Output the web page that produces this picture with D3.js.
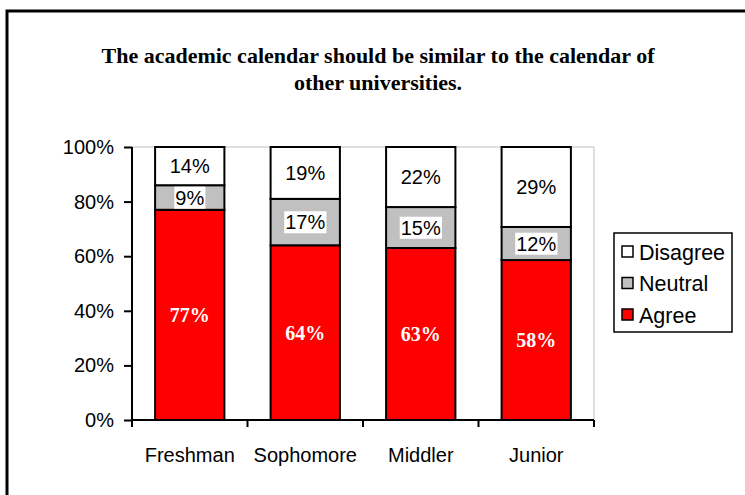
<!DOCTYPE html>
<html lang="en">
<head>
  <meta charset="UTF-8">
  <script src="https://d3js.org/d3.v7.min.js"></script>
  <title>Academic calendar survey</title>
  <style>
    body {
      margin: 0;
      background: white;
      overflow: hidden;
    }
    svg text {
      font-family: "Liberation Sans", Arial, sans-serif;
    }
  </style>
</head>
<body>
<script>
  // Chart data
  const categories = ["Freshman", "Sophomore", "Middler", "Junior"];
  const agree = [77, 64, 63, 58];
  const neutral = [9, 17, 15, 12];
  const disagree = [14, 19, 22, 29];
  const seriesNames = ["Agree", "Neutral", "Disagree"];
  const seriesColors = ["#ff0000", "#c0c0c0", "#ffffff"];
  const yTicks = [0, 0.2, 0.4, 0.6, 0.8, 1];
  const titleLines = [
    "The academic calendar should be similar to the calendar of",
    "other universities."
  ];

  const width = 745;
  const height = 495;

  // plot area box
  const plot = { left: 132, right: 594, top: 147, bottom: 420 };

  const svg = d3.select("body").append("svg")
    .attr("width", width)
    .attr("height", height);

  // outer frame (only left and top edges are visible in the picture)
  svg.append("rect")
    .attr("x", 7)
    .attr("y", 11)
    .attr("width", 800)
    .attr("height", 600)
    .attr("fill", "white")
    .attr("stroke", "black")
    .attr("stroke-width", 3);

  // title
  svg.append("g")
    .selectAll("text")
    .data(titleLines)
    .enter().append("text")
    .attr("x", 378)
    .attr("y", (d, i) => 63 + i * 27)
    .attr("text-anchor", "middle")
    .style("font-family", "'Liberation Serif', 'Times New Roman', serif")
    .style("font-weight", "bold")
    .style("font-size", "22px")
    .text(d => d);

  // table of rows for the stack
  const rows = categories.map((c, i) => ({
    category: c,
    Agree: agree[i],
    Neutral: neutral[i],
    Disagree: disagree[i]
  }));

  const stack = d3.stack()
    .keys(seriesNames)
    .offset(d3.stackOffsetExpand);
  const layers = stack(rows);

  const x = d3.scaleBand()
    .domain(categories)
    .range([plot.left, plot.right])
    .paddingInner(0.4)
    .paddingOuter(0.2);

  const y = d3.scaleLinear()
    .domain([0, 1])
    .range([plot.bottom, plot.top]);

  const color = d3.scaleOrdinal()
    .domain(seriesNames)
    .range(seriesColors);

  // plot area border
  svg.append("rect")
    .attr("x", plot.left)
    .attr("y", plot.top)
    .attr("width", plot.right - plot.left)
    .attr("height", plot.bottom - plot.top)
    .attr("fill", "none")
    .attr("stroke", "#c0c0c0")
    .attr("stroke-width", 1);

  // bars
  const layerG = svg.append("g")
    .selectAll("g")
    .data(layers)
    .enter().append("g")
    .attr("fill", d => color(d.key));

  layerG.selectAll("rect")
    .data(d => d)
    .enter().append("rect")
    .attr("x", d => x(d.data.category))
    .attr("y", d => y(d[1]))
    .attr("width", x.bandwidth())
    .attr("height", d => y(d[0]) - y(d[1]))
    .attr("stroke", "black")
    .attr("stroke-width", 2);

  // value labels
  layers.forEach(layer => {
    const key = layer.key;
    layer.forEach(d => {
      const cx = x(d.data.category) + x.bandwidth() / 2;
      const cy = (y(d[0]) + y(d[1])) / 2;
      const g = svg.append("g");
      const t = g.append("text")
        .attr("x", cx)
        .attr("y", cy)
        .attr("dy", "0.36em")
        .attr("text-anchor", "middle")
        .text(d.data[key] + "%");
      if (key === "Agree") {
        t.attr("fill", "white")
          .style("font-family", "'Liberation Serif', 'Times New Roman', serif")
          .style("font-weight", "bold")
          .style("font-size", "20px");
      } else {
        t.attr("fill", "black")
          .style("font-size", "20px");
        const bb = t.node().getBBox();
        g.insert("rect", "text")
          .attr("x", bb.x - 1)
          .attr("y", bb.y)
          .attr("width", bb.width + 2)
          .attr("height", bb.height)
          .attr("fill", "white");
      }
    });
  });

  // y axis
  const yAxis = svg.append("g")
    .attr("transform", `translate(${plot.left},0)`)
    .call(d3.axisLeft(y).tickValues(yTicks).tickFormat(d3.format(".0%")).tickSize(8).tickPadding(10));

  // x axis
  const xAxis = svg.append("g")
    .attr("transform", `translate(0,${plot.bottom})`)
    .call(d3.axisBottom(x).tickSize(0).tickPadding(28));

  // x ticks at category boundaries
  const boundaries = d3.range(categories.length + 1).map(i => plot.left + i * x.step());
  svg.append("g")
    .selectAll("line")
    .data(boundaries)
    .enter().append("line")
    .attr("x1", d => d)
    .attr("x2", d => d)
    .attr("y1", plot.bottom)
    .attr("y2", plot.bottom + 7)
    .attr("stroke", "black")
    .attr("stroke-width", 2);

  [yAxis, xAxis].forEach(a => {
    a.selectAll("path.domain").attr("stroke", "black").attr("stroke-width", 2);
    a.selectAll(".tick line").attr("stroke", "black").attr("stroke-width", 2);
    a.selectAll("text")
      .attr("fill", "black")
      .style("font-family", "'Liberation Sans', Arial, sans-serif")
      .style("font-size", "20px");
  });
  yAxis.select("path.domain").attr("d", `M0,${plot.bottom}V${plot.top}`);
  xAxis.select("path.domain").attr("d", `M${plot.left},0H${plot.right}`);

  // legend
  const legend = svg.append("g")
    .attr("transform", "translate(614,233)");

  legend.append("rect")
    .attr("width", 118)
    .attr("height", 99)
    .attr("fill", "white")
    .attr("stroke", "black")
    .attr("stroke-width", 1.5);

  const legendOrder = seriesNames.slice().reverse();
  const item = legend.selectAll("g.item")
    .data(legendOrder)
    .enter().append("g")
    .attr("class", "item")
    .attr("transform", (d, i) => `translate(8,${19 + i * 31.5})`);

  item.append("rect")
    .attr("x", 0)
    .attr("y", -6)
    .attr("width", 11)
    .attr("height", 11)
    .attr("fill", d => color(d))
    .attr("stroke", "black")
    .attr("stroke-width", 1.5);

  item.append("text")
    .attr("x", 17)
    .attr("y", 0)
    .attr("dy", "0.36em")
    .style("font-size", "21.5px")
    .text(d => d);
</script>
</body>
</html>
